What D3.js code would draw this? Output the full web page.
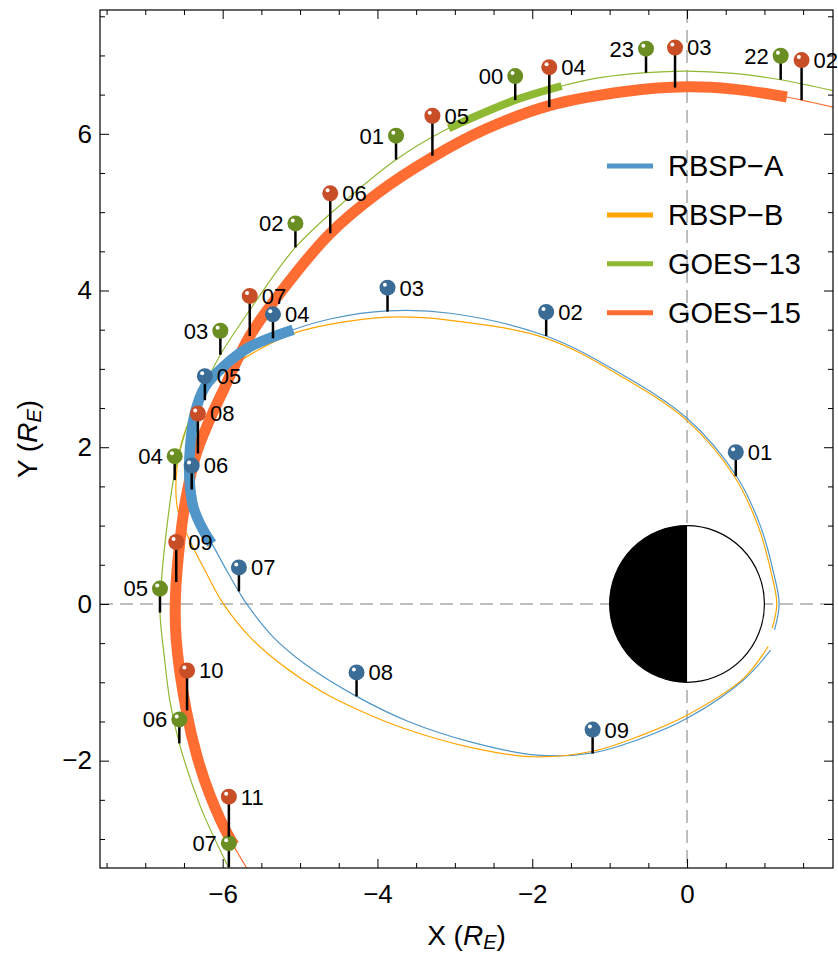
<!DOCTYPE html>
<html>
<head>
<meta charset="utf-8">
<script src="https://cdn.jsdelivr.net/npm/d3@7"></script>
<style>
  body { margin: 0; background: #fff; }
  text { font-family: "Liberation Sans", Arial, sans-serif; fill: #000; }
</style>
</head>
<body>
<svg id="chart"></svg>
<script>
// ---- data (X, Y in Earth radii) ----
var rbspA = [[1.13,-0.33],[1.19,0],[1.12,0.39],[0.95,0.99],[0.64,1.63],[0,2.37],[-0.86,2.94],[-1.82,3.42],
  [-3.06,3.71],[-3.87,3.74],[-4.6,3.64],[-5.09,3.50],[-5.65,3.28],[-5.99,3.03],[-6.23,2.77],[-6.36,2.43],
  [-6.42,2.01],[-6.43,1.62],[-6.38,1.24],[-6.25,0.94],[-6.14,0.77],[-5.95,0.43],[-5.78,0.14],[-5.69,0],
  [-5.35,-0.42],[-4.92,-0.78],[-4.27,-1.18],[-3.6,-1.50],[-2.80,-1.76],[-1.94,-1.93],[-1.22,-1.90],
  [-0.6,-1.72],[0,-1.46],[0.73,-0.97],[1.08,-0.59]];
var rbspAThick = [[-5.09,3.50],[-5.65,3.28],[-5.99,3.03],[-6.23,2.77],[-6.36,2.43],[-6.42,2.01],
  [-6.43,1.62],[-6.38,1.24],[-6.25,0.94],[-6.14,0.77]];

var rbspB = [[1.10,-0.31],[1.16,0],[1.09,0.39],[0.92,0.99],[0.61,1.63],[0,2.34],[-0.86,2.91],[-1.82,3.39],
  [-3.06,3.62],[-3.86,3.66],[-4.6,3.57],[-5.09,3.45],[-5.7,3.15],[-6.05,2.90],[-6.25,2.67],[-6.51,2.13],
  [-6.60,1.62],[-6.58,1.20],[-6.43,0.82],[-6.24,0.45],[-5.99,0],[-5.65,-0.42],[-5.22,-0.79],[-4.70,-1.13],
  [-4.23,-1.36],[-3.71,-1.57],[-2.80,-1.83],[-1.98,-1.95],[-1.22,-1.88],[-0.6,-1.68],[0,-1.42],
  [0.73,-0.95],[1.05,-0.54]];

var goes13 = [[1.89,6.55],[1.21,6.69],[0.6,6.77],[0,6.80],[-0.53,6.78],[-1.1,6.72],[-1.62,6.61],
  [-2.22,6.43],[-3.08,6.07],[-3.76,5.67],[-4.4,5.16],[-5.06,4.55],[-5.65,3.75],[-6.03,3.18],[-6.25,2.75],
  [-6.43,2.35],[-6.62,1.67],[-6.71,1.07],[-6.79,0.31],[-6.81,-0.11],[-6.75,-0.71],[-6.68,-1.25],
  [-6.56,-1.78],[-6.29,-2.58],[-5.92,-3.37]];
var goes13Thick = [[-3.08,6.07],[-2.22,6.43],[-1.62,6.61]];

var goes15 = [[1.89,6.34],[1.48,6.43],[1.29,6.47],[0.6,6.57],[0,6.60],[-0.8,6.54],[-1.78,6.36],
  [-2.6,6.06],[-3.29,5.70],[-4.0,5.24],[-4.61,4.73],[-5.13,4.13],[-5.65,3.42],[-5.99,2.73],[-6.19,2.30],
  [-6.34,1.92],[-6.47,1.37],[-6.55,0.82],[-6.61,0.09],[-6.60,-0.46],[-6.47,-1.36],[-6.33,-1.95],
  [-6.16,-2.45],[-5.92,-2.97],[-5.69,-3.37]];
var goes15Thick = [[1.29,6.47],[0.6,6.57],[0,6.60],[-0.8,6.54],[-1.78,6.36],[-2.6,6.06],[-3.29,5.70],
  [-4.0,5.24],[-4.61,4.73],[-5.13,4.13],[-5.65,3.42],[-5.99,2.73],[-6.19,2.30],[-6.34,1.92],[-6.47,1.37],
  [-6.55,0.82],[-6.61,0.09],[-6.60,-0.46],[-6.47,-1.36],[-6.33,-1.95],[-6.16,-2.45],[-5.92,-2.97],
  [-5.85,-3.08]];

// hourly markers: orbit point + hour label
var pinsA = [[0.63,1.63,"01"],[-1.82,3.42,"02"],[-3.87,3.73,"03"],[-5.35,3.39,"04"],[-6.23,2.60,"05"],
  [-6.40,1.46,"06"],[-5.79,0.16,"07"],[-4.27,-1.18,"08"],[-1.22,-1.91,"09"]];
var pins13 = [[-2.22,6.43,"00"],[-3.76,5.67,"01"],[-5.06,4.55,"02"],[-6.03,3.18,"03"],[-6.62,1.58,"04"],
  [-6.81,-0.11,"05"],[-6.56,-1.78,"06"],[-5.92,-3.36,"07"],[1.21,6.69,"22"],[-0.53,6.78,"23"]];
var pins15 = [[1.48,6.43,"02"],[-0.155,6.59,"03"],[-1.78,6.34,"04"],[-3.29,5.72,"05"],[-4.61,4.73,"06"],
  [-5.65,3.42,"07"],[-6.32,1.92,"08"],[-6.60,0.28,"09"],[-6.46,-1.36,"10"],[-5.92,-2.97,"11"]];

var legendNames = ["RBSP\u2212A", "RBSP\u2212B", "GOES\u221213", "GOES\u221215"];
var xMajor = [-6, -4, -2, 0];
var yMajor = [-2, 0, 2, 4, 6];
var xMinor = [-7.5,-7,-6.5,-5.5,-5,-4.5,-3.5,-3,-2.5,-1.5,-1,-0.5,0.5,1,1.5];
var yMinor = [-3,-2.5,-1.5,-1,-0.5,0.5,1,1.5,2.5,3,3.5,4.5,5,5.5,6.5,7,7.5];

// ---- layout ----
var W = 838, H = 955;
var box = { left: 100, right: 833, top: 10, bottom: 868 };

var colA = "#5096c8", colB = "#ffa500", col13 = "#8fb833", col15 = "#ff6d33";

var x = d3.scaleLinear().domain([-7.585, 1.886]).range([box.left, box.right]);
var y = d3.scaleLinear().domain([-3.37, 7.58]).range([box.bottom, box.top]);

var svg = d3.select("#chart").attr("width", W).attr("height", H);

svg.append("clipPath").attr("id", "clip")
  .append("rect")
  .attr("x", box.left).attr("y", box.top)
  .attr("width", box.right - box.left).attr("height", box.bottom - box.top);

var plot = svg.append("g").attr("clip-path", "url(#clip)");

// dashed axes through the origin
plot.append("line")
  .attr("x1", box.left).attr("x2", box.right).attr("y1", y(0)).attr("y2", y(0))
  .attr("stroke", "#aaa").attr("stroke-width", 1.5).attr("stroke-dasharray", "13,7");
plot.append("line")
  .attr("x1", x(0)).attr("x2", x(0)).attr("y1", box.top).attr("y2", box.bottom)
  .attr("stroke", "#aaa").attr("stroke-width", 1.5).attr("stroke-dasharray", "13,7");

// Earth: day side white, night side black
var cx = x(0), cy = y(0), rx = x(1) - x(0), ry = y(0) - y(1);
plot.append("ellipse")
  .attr("cx", cx).attr("cy", cy).attr("rx", rx).attr("ry", ry)
  .attr("fill", "#fff").attr("stroke", "#000").attr("stroke-width", 1.2);
plot.append("path")
  .attr("d", "M" + cx + "," + (cy - ry) + " A" + rx + "," + ry + " 0 0 0 " + cx + "," + (cy + ry) + " Z")
  .attr("fill", "#000");

var line = d3.line()
  .x(function(d){ return x(d[0]); })
  .y(function(d){ return y(d[1]); })
  .curve(d3.curveCatmullRom);

// thin orbits
[[rbspA, colA], [rbspB, colB], [goes13, col13], [goes15, col15]].forEach(function(o){
  plot.append("path").datum(o[0])
    .attr("d", line)
    .attr("fill", "none").attr("stroke", o[1]).attr("stroke-width", 1.2);
});

// thick highlighted intervals (RBSP-A ends up on top)
[[goes15Thick, col15, 11], [goes13Thick, col13, 8], [rbspAThick, colA, 10.5]].forEach(function(o){
  plot.append("path").datum(o[0])
    .attr("d", line)
    .attr("fill", "none").attr("stroke", o[1]).attr("stroke-width", o[2]);
});

// pins: stems and heads clipped to the frame, labels free
var labels = svg.append("g");
function drawPins(pins, ballColor, len, side){
  var g = plot.append("g");
  pins.forEach(function(p){
    var px = x(p[0]), py = y(p[1]), by = py - len;
    g.append("line")
      .attr("x1", px).attr("x2", px).attr("y1", py).attr("y2", by)
      .attr("stroke", "#000").attr("stroke-width", 2.5);
    g.append("circle").attr("cx", px).attr("cy", by).attr("r", 8).attr("fill", ballColor);
    g.append("circle").attr("cx", px - 2.7).attr("cy", by - 3).attr("r", 2).attr("fill", "#fff");
    labels.append("text")
      .attr("x", px + (side > 0 ? 12 : -12)).attr("y", by)
      .attr("dy", "0.36em")
      .attr("text-anchor", side > 0 ? "start" : "end")
      .style("font-size", "22px")
      .text(p[2]);
  });
}
drawPins(pinsA, "#3a6c96", 24, 1);
drawPins(pins13, "#6b8e23", 24, -1);
drawPins(pins15, "#c84e28", 40, 1);

// legend
var legend = svg.append("g");
[colA, colB, col13, col15].forEach(function(c, i){
  var ly = 166 + i * 48.9;
  legend.append("line")
    .attr("x1", 607).attr("x2", 653).attr("y1", ly).attr("y2", ly)
    .attr("stroke", c).attr("stroke-width", 5);
  legend.append("text")
    .attr("x", 668).attr("y", ly).attr("dy", "0.36em")
    .style("font-size", "29px")
    .text(legendNames[i]);
});

// frame + ticks
function fmt(d){ return d < 0 ? "\u2212" + Math.abs(d) : String(d); }

function styleAxis(g){
  g.select(".domain").remove();
  g.selectAll("line").attr("stroke", "#000").attr("stroke-width", 1);
  g.selectAll("text").style("font-size", "26px").style("font-family", '"Liberation Sans", Arial, sans-serif');
}

svg.append("g").attr("transform", "translate(0," + box.bottom + ")")
  .call(d3.axisBottom(x).tickValues(xMajor).tickSize(-9).tickPadding(17).tickFormat(fmt)).call(styleAxis);
svg.append("g").attr("transform", "translate(0," + box.bottom + ")")
  .call(d3.axisBottom(x).tickValues(xMinor).tickSize(-5).tickFormat("")).call(styleAxis);
svg.append("g").attr("transform", "translate(0," + box.top + ")")
  .call(d3.axisTop(x).tickValues(xMajor).tickSize(-9).tickFormat("")).call(styleAxis);
svg.append("g").attr("transform", "translate(0," + box.top + ")")
  .call(d3.axisTop(x).tickValues(xMinor).tickSize(-5).tickFormat("")).call(styleAxis);

svg.append("g").attr("transform", "translate(" + box.left + ",0)")
  .call(d3.axisLeft(y).tickValues(yMajor).tickSize(-9).tickPadding(8).tickFormat(fmt)).call(styleAxis);
svg.append("g").attr("transform", "translate(" + box.left + ",0)")
  .call(d3.axisLeft(y).tickValues(yMinor).tickSize(-5).tickFormat("")).call(styleAxis);
svg.append("g").attr("transform", "translate(" + box.right + ",0)")
  .call(d3.axisRight(y).tickValues(yMajor).tickSize(-9).tickFormat("")).call(styleAxis);
svg.append("g").attr("transform", "translate(" + box.right + ",0)")
  .call(d3.axisRight(y).tickValues(yMinor).tickSize(-5).tickFormat("")).call(styleAxis);

svg.append("rect")
  .attr("x", box.left).attr("y", box.top)
  .attr("width", box.right - box.left).attr("height", box.bottom - box.top)
  .attr("fill", "none").attr("stroke", "#000").attr("stroke-width", 1.2);

// axis titles
var xt = svg.append("text")
  .attr("x", (box.left + box.right) / 2).attr("y", 945)
  .attr("text-anchor", "middle").style("font-size", "28px");
xt.append("tspan").text("X (");
xt.append("tspan").style("font-style", "italic").text("R");
xt.append("tspan").style("font-style", "italic").style("font-size", "20px").attr("dy", 4).text("E");
xt.append("tspan").attr("dy", -4).text(")");

var yt = svg.append("text")
  .attr("transform", "translate(37," + (box.top + box.bottom) / 2 + ") rotate(-90)")
  .attr("text-anchor", "middle").style("font-size", "28px");
yt.append("tspan").text("Y (");
yt.append("tspan").style("font-style", "italic").text("R");
yt.append("tspan").style("font-style", "italic").style("font-size", "20px").attr("dy", 4).text("E");
yt.append("tspan").attr("dy", -4).text(")");
</script>
</body>
</html>
